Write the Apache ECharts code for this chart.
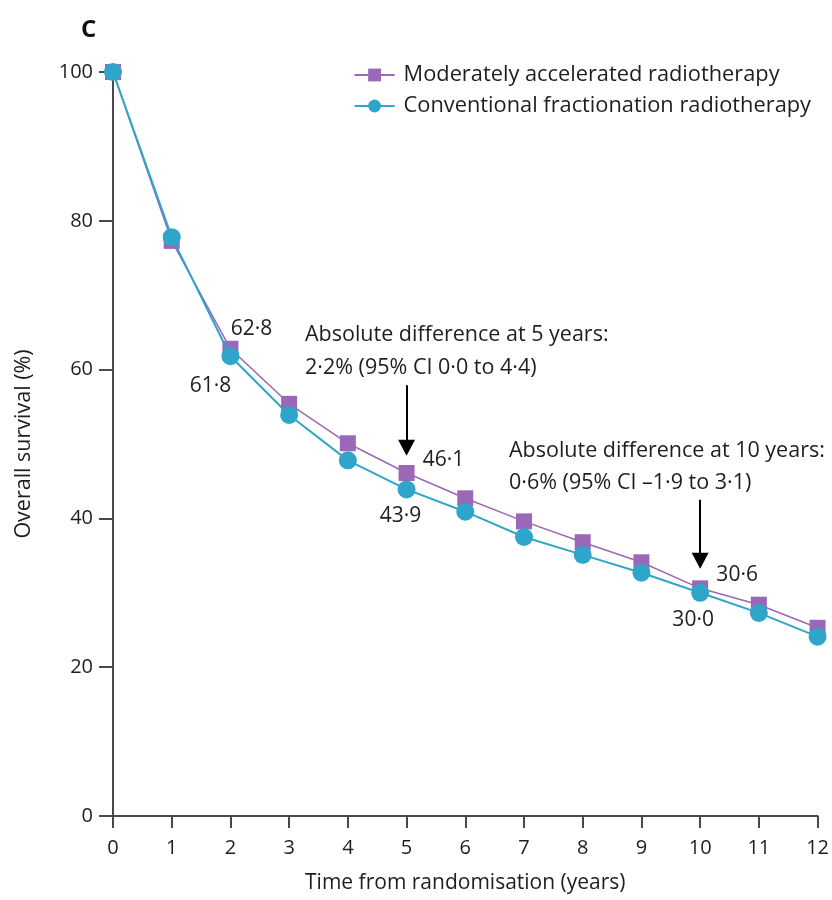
<!DOCTYPE html>
<html>
<head>
<meta charset="utf-8">
<script src="https://cdn.jsdelivr.net/npm/echarts@6/dist/echarts.min.js"></script>
<style>
  html, body { margin: 0; padding: 0; background: #fff; }
  #chart { width: 832px; height: 900px; }
</style>
</head>
<body>
<div id="chart"></div>
<script>
// Overall survival by year since randomisation
const years = [0, 1, 2, 3, 4, 5, 6, 7, 8, 9, 10, 11, 12];
const acceleratedOS = [100, 77.3, 62.8, 55.4, 50.1, 46.1, 42.7, 39.6, 36.8, 34.1, 30.6, 28.4, 25.3];
const conventionalOS = [100, 77.8, 61.8, 53.9, 47.8, 43.9, 40.9, 37.5, 35.1, 32.7, 30.0, 27.3, 24.1];
const yTicks = [0, 20, 40, 60, 80, 100];
const seriesNames = ['Moderately accelerated radiotherapy', 'Conventional fractionation radiotherapy'];

// Labelled points: year -> label offset
const accelLabels = { 2: [21, -20], 5: [37, -13], 10: [37, -13] };
const convLabels = { 2: [-20, 30], 5: [-6, 27], 10: [-7, 27] };

// Arrows pointing at the 5- and 10-year estimates: [year, from, to]
const arrows = [[5, 57.9, 49.5], [10, 42.5, 34.3]];

const FONT = 'Open Sans';
const PURPLE = '#9a68b6';
const CYAN = '#2fa6c9';
const AXIS = '#4a4a4a';
const TEXT = '#1e1e1e';

function fmt(v) { return v.toFixed(1).replace('.', '\u00B7'); }

function buildData(values, labelMap) {
  return years.map((yr, i) => {
    const item = { value: [yr, values[i]] };
    if (labelMap[yr]) {
      item.label = {
        show: true,
        position: 'inside',
        offset: labelMap[yr],
        formatter: (p) => fmt(p.value[1]),
        color: TEXT,
        fontFamily: FONT,
        fontSize: 21
      };
    }
    return item;
  });
}

const chart = echarts.init(document.getElementById('chart'));
chart.setOption({
  animation: false,
  backgroundColor: '#fff',
  textStyle: { fontFamily: FONT },
  grid: { left: 113, right: 13, top: 72, bottom: 84, containLabel: false },
  title: {
    text: 'C', left: 76, top: 13,
    textStyle: { fontFamily: FONT, fontWeight: 'bold', fontSize: 24, color: '#111' }
  },
  legend: {
    right: 16, top: 59, orient: 'vertical',
    itemWidth: 40, itemHeight: 16, itemGap: 9,
    textStyle: { fontFamily: FONT, fontSize: 21.8, color: TEXT, padding: [0, 0, 0, 4] },
    data: seriesNames
  },
  xAxis: {
    type: 'value', min: 0, max: 12, interval: 1,
    name: 'Time from randomisation (years)',
    nameLocation: 'middle', nameGap: 57,
    nameTextStyle: { fontFamily: FONT, fontSize: 21, color: TEXT },
    axisLine: { show: true, lineStyle: { color: AXIS, width: 2 } },
    axisTick: { show: true, length: 12, lineStyle: { color: AXIS, width: 2 } },
    axisLabel: { fontFamily: FONT, fontSize: 20, color: TEXT, margin: 22 },
    splitLine: { show: false }
  },
  yAxis: {
    type: 'value', min: 0, max: 100, interval: 20,
    name: 'Overall survival (%)',
    nameLocation: 'middle', nameGap: 78, nameRotate: 90,
    nameTextStyle: { fontFamily: FONT, fontSize: 21.5, color: TEXT },
    axisLine: { show: true, lineStyle: { color: AXIS, width: 2 } },
    axisTick: { show: true, length: 14, lineStyle: { color: AXIS, width: 2 } },
    axisLabel: {
      fontFamily: FONT, fontSize: 20, color: TEXT, margin: 20,
      customValues: yTicks
    },
    splitLine: { show: false }
  },
  series: [
    {
      name: seriesNames[0], type: 'line',
      data: buildData(acceleratedOS, accelLabels),
      symbol: 'rect', symbolSize: 16,
      itemStyle: { color: PURPLE },
      lineStyle: { color: PURPLE, width: 1.5 },
      z: 2,
      markLine: {
        silent: true, symbol: ['none', 'triangle'], symbolSize: [17, 16],
        lineStyle: { color: '#000', width: 2, type: 'solid' },
        itemStyle: { color: '#000' },
        label: { show: false },
        data: arrows.map(([x, y0, y1]) => [{ coord: [x, y0] }, { coord: [x, y1] }])
      }
    },
    {
      name: seriesNames[1], type: 'line',
      data: buildData(conventionalOS, convLabels),
      symbol: 'circle', symbolSize: 18,
      itemStyle: { color: CYAN },
      lineStyle: { color: CYAN, width: 2 },
      z: 3
    }
  ],
  graphic: [
    { type: 'text', left: 305, top: 318,
      style: { text: 'Absolute difference at 5 years:\n2\u00B72% (95% CI 0\u00B70 to 4\u00B74)',
        font: '21.5px "Open Sans"', fill: TEXT, lineHeight: 33 } },
    { type: 'text', left: 509, top: 435,
      style: { text: 'Absolute difference at 10 years:\n0\u00B76% (95% CI \u20131\u00B79 to 3\u00B71)',
        font: '21.5px "Open Sans"', fill: TEXT, lineHeight: 32 } }
  ]
});
</script>
</body>
</html>
